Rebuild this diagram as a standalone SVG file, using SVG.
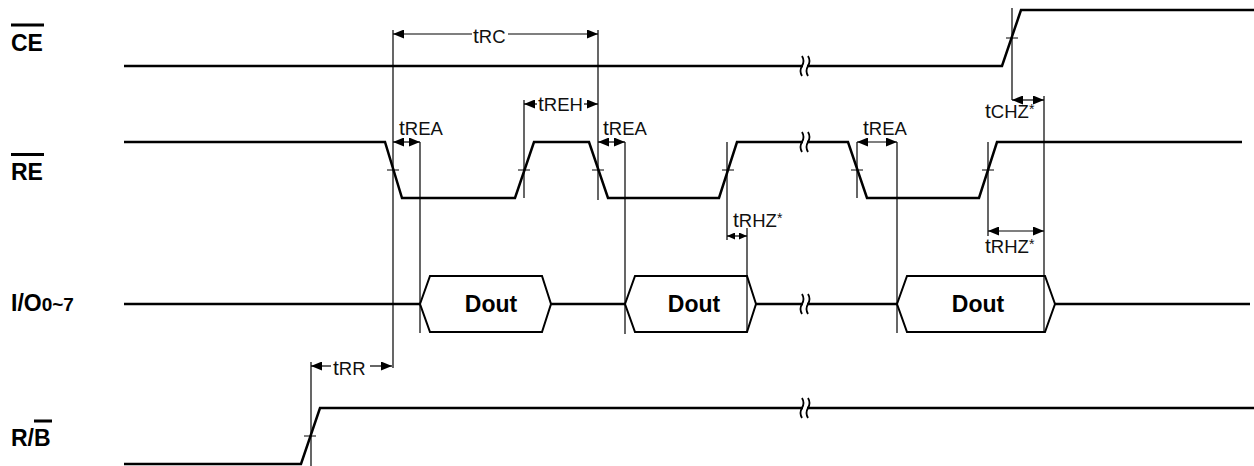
<svg xmlns="http://www.w3.org/2000/svg" width="1254" height="466" viewBox="0 0 1254 466">
<style>
.sig{fill:none;stroke:#000;stroke-width:2.5;stroke-linejoin:miter}
.thin{fill:none;stroke:#000;stroke-width:1.2}
.tick{fill:none;stroke:#000;stroke-width:1}
.ovl{stroke:#000;stroke-width:3}
.lbl{font-family:"Liberation Sans",Arial,sans-serif;font-weight:bold;font-size:23px;fill:#000}
.tm{font-family:"Liberation Sans",Arial,sans-serif;font-size:18.5px;fill:#111}
.tm .t{font-size:21px}
.tm .s{font-size:14px}
.dout{font-family:"Liberation Sans",Arial,sans-serif;font-weight:bold;font-size:23px;text-anchor:middle;fill:#000}
.hex{fill:#fff;stroke:#000;stroke-width:2}
.arr{fill:none;stroke:#000;stroke-width:1.2;marker-start:url(#ah);marker-end:url(#ah)}
.arrs{fill:none;stroke:#000;stroke-width:1.2;marker-start:url(#ahs);marker-end:url(#ahs)}
.half{fill:none;stroke:#000;stroke-width:1.2;marker-end:url(#ah)}
.brkc{fill:none;stroke:#000;stroke-width:1.8}
</style>
<defs>
<marker id="ah" markerUnits="userSpaceOnUse" markerWidth="12" markerHeight="9" refX="11" refY="4.5" orient="auto-start-reverse"><path d="M0,0 L11,4.5 L0,9 z" fill="#000"/></marker>
<marker id="ahs" markerUnits="userSpaceOnUse" markerWidth="9" markerHeight="7" refX="8" refY="3.5" orient="auto-start-reverse"><path d="M0,0 L8,3.5 L0,7 z" fill="#000"/></marker>
<g id="brk"><rect x="-2" y="-3" width="4" height="6" fill="#fff"/><path class="brkc" d="M-3,-10 Q0,-5 -3,0 Q-6,5 -3,10 M3,-10 Q6,-5 3,0 Q0,5 3,10"/></g>
</defs>

<g id="labels">
<g id="label-ce"><text class="lbl" x="11" y="51">CE</text><line class="ovl" x1="11" y1="25" x2="44" y2="25"/></g>
<g id="label-re"><text class="lbl" x="11" y="180">RE</text><line class="ovl" x1="11" y1="154.5" x2="44" y2="154.5"/></g>
<g id="label-io"><text class="lbl" x="11" y="311">I/O<tspan font-size="19">0~7</tspan></text></g>
<g id="label-rb"><text class="lbl" x="11" y="446">R/B</text><line class="ovl" x1="34" y1="421" x2="52" y2="421"/></g>
</g>

<g id="sig-ce">
<path class="sig" d="M124,66 H1002 L1021,10 H1254"/>
<line class="tick" x1="1006" y1="38" x2="1018" y2="38"/>
<use href="#brk" x="805" y="66"/>
</g>

<g id="sig-re">
<path class="sig" d="M124,142 H385 L402,198 H515 L534,142 H589 L608,198 H719 L737,142 H848 L867,198 H979 L997,142 H1242"/>
<g class="tick">
<line x1="387" y1="170" x2="399" y2="170"/>
<line x1="518" y1="170" x2="530" y2="170"/>
<line x1="592" y1="170" x2="604" y2="170"/>
<line x1="722" y1="170" x2="734" y2="170"/>
<line x1="851" y1="170" x2="863" y2="170"/>
<line x1="982" y1="170" x2="994" y2="170"/>
</g>
<use href="#brk" x="805" y="142"/>
</g>

<g id="sig-io">
<path class="sig" d="M124,304 H420 M551,304 H625 M756,304 H897 M1055,304 H1250"/>
<use href="#brk" x="805" y="304"/>
</g>

<g id="dout1"><path class="hex" d="M420,304 L430,276 H542 L551,304 L542,332 H430 Z"/><text class="dout" x="491" y="312">Dout</text></g>
<g id="dout2"><path class="hex" d="M625,304 L635,276 H747 L756,304 L747,332 H635 Z"/><text class="dout" x="694" y="312">Dout</text></g>
<g id="dout3"><path class="hex" d="M897,304 L907,276 H1045 L1055,304 L1045,332 H907 Z"/><text class="dout" x="978" y="312">Dout</text></g>

<g id="sig-rb">
<path class="sig" d="M124,464 H301 L320,408 H1254"/>
<line class="tick" x1="304" y1="436" x2="316" y2="436"/>
<use href="#brk" x="805" y="408"/>
</g>

<g id="connectors">
<g class="thin">
<line x1="393" y1="30" x2="393" y2="368"/>
<line x1="420" y1="142" x2="420" y2="333"/>
<line x1="524" y1="100" x2="524" y2="198"/>
<line x1="598" y1="30" x2="598" y2="200"/>
<line x1="625" y1="142" x2="625" y2="334"/>
<line x1="727" y1="142" x2="727" y2="240"/>
<line x1="747" y1="228" x2="747" y2="332"/>
<line x1="857" y1="142" x2="857" y2="198"/>
<line x1="897" y1="142" x2="897" y2="333"/>
<line x1="988" y1="142" x2="988" y2="236"/>
<line x1="1012" y1="8" x2="1012" y2="100"/>
<line x1="1044" y1="96" x2="1044" y2="333"/>
<line x1="311" y1="362" x2="311" y2="466"/>
</g>
<line class="half" x1="472" y1="34" x2="393" y2="34"/>
<line class="half" x1="508" y1="34" x2="598" y2="34"/>
<line class="half" x1="537" y1="104" x2="524" y2="104"/>
<line class="half" x1="584" y1="104" x2="598" y2="104"/>
<line class="arr" x1="393" y1="142" x2="420" y2="142"/>
<line class="arr" x1="598" y1="142" x2="625" y2="142"/>
<line class="arr" x1="857" y1="142" x2="897" y2="142"/>
<line class="arrs" x1="727" y1="236" x2="747" y2="236"/>
<line class="arr" x1="988" y1="231" x2="1044" y2="231"/>
<line class="arr" x1="1012" y1="100" x2="1044" y2="100"/>
<line class="half" x1="331" y1="366" x2="311" y2="366"/>
<line class="half" x1="370" y1="366" x2="392" y2="366"/>
</g>

<g id="timing-labels">
<text class="tm" x="473" y="43"><tspan class="t">t</tspan>RC</text>
<text class="tm" x="538" y="111"><tspan class="t">t</tspan>REH</text>
<text class="tm" x="399" y="135"><tspan class="t">t</tspan>REA</text>
<text class="tm" x="603" y="135"><tspan class="t">t</tspan>REA</text>
<text class="tm" x="863" y="135"><tspan class="t">t</tspan>REA</text>
<text class="tm" x="733" y="227"><tspan class="t">t</tspan>RHZ<tspan class="s" dy="-4">*</tspan></text>
<text class="tm" x="985" y="253"><tspan class="t">t</tspan>RHZ<tspan class="s" dy="-4">*</tspan></text>
<text class="tm" x="985" y="118"><tspan class="t">t</tspan>CHZ<tspan class="s" dy="-4">*</tspan></text>
<text class="tm" x="333" y="375"><tspan class="t">t</tspan>RR</text>
</g>
</svg>
